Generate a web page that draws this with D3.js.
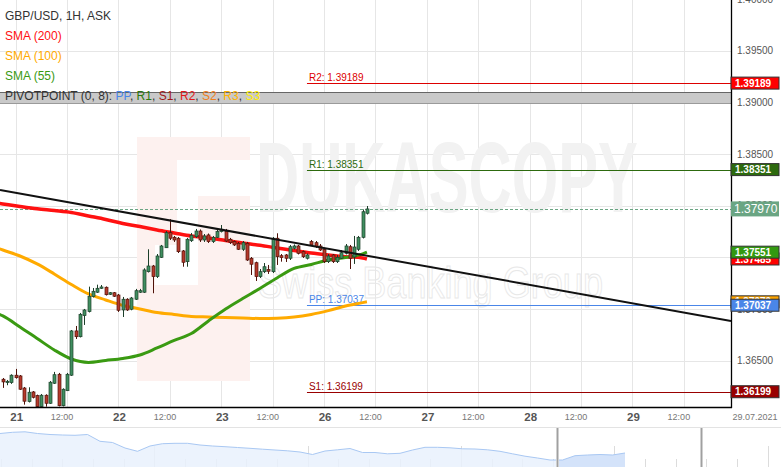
<!DOCTYPE html>
<html><head><meta charset="utf-8">
<script src="https://cdn.jsdelivr.net/npm/d3@7/dist/d3.min.js"></script>
<style>body{margin:0;background:#fff;}svg{display:block;font-family:"Liberation Sans",Arial,sans-serif;}</style>
</head><body><svg id="c" width="781" height="467"></svg>
<script>
// ---------- DATA ----------
const title = "GBP/USD, 1H, ASK";
const firstHour = -3; // hour of first candle relative to 21 Jul 00:00 (weekend compressed)
// hourly candles [open, high, low, close]
const candles = [
[1.36320,1.36332,1.36236,1.36294],[1.36287,1.36313,1.36262,1.36300],[1.36287,1.36368,1.36275,1.36359],
[1.36359,1.36420,1.36326,1.36335],[1.36352,1.36361,1.36216,1.36223],[1.36235,1.36245,1.36074,1.36107],
[1.36103,1.36242,1.36095,1.36194],[1.36197,1.36206,1.36134,1.36145],[1.36161,1.36171,1.36051,1.36054],
[1.36054,1.36177,1.36051,1.36165],[1.36165,1.36174,1.36054,1.36087],[1.36087,1.36303,1.36081,1.36291],
[1.36281,1.36391,1.36274,1.36364],[1.36368,1.36381,1.36057,1.36064],[1.36064,1.36232,1.36057,1.36223],
[1.36209,1.36381,1.36206,1.36368],[1.36359,1.36797,1.36352,1.36788],[1.36788,1.36836,1.36710,1.36732],
[1.36732,1.36962,1.36725,1.36949],[1.36936,1.37001,1.36846,1.36991],[1.36975,1.37217,1.36967,1.37124],
[1.37121,1.37204,1.37112,1.37172],[1.37163,1.37236,1.37156,1.37201],[1.37201,1.37233,1.37195,1.37214],
[1.37211,1.37219,1.37131,1.37139],[1.37143,1.37165,1.37136,1.37158],[1.37158,1.37165,1.37117,1.37124],
[1.37136,1.37146,1.36972,1.36988],[1.36991,1.37117,1.36923,1.37095],[1.37095,1.37105,1.36982,1.36991],
[1.36998,1.37117,1.36988,1.37107],[1.37095,1.37195,1.37088,1.37178],[1.37163,1.37195,1.37156,1.37178],
[1.37163,1.37395,1.37156,1.37379],[1.37362,1.37579,1.37354,1.37417],[1.37417,1.37427,1.37153,1.37314],
[1.37314,1.37533,1.37301,1.37514],[1.37501,1.37621,1.37495,1.37611],[1.37594,1.37756,1.37592,1.37740],
[1.37740,1.37870,1.37669,1.37686],[1.37695,1.37708,1.37650,1.37669],[1.37686,1.37698,1.37543,1.37556],
[1.37563,1.37572,1.37410,1.37453],[1.37459,1.37689,1.37410,1.37676],[1.37662,1.37737,1.37650,1.37715],
[1.37701,1.37776,1.37689,1.37756],[1.37756,1.37771,1.37650,1.37669],[1.37669,1.37727,1.37650,1.37708],
[1.37718,1.37732,1.37640,1.37653],[1.37653,1.37708,1.37640,1.37695],[1.37695,1.37766,1.37689,1.37750],
[1.37750,1.37814,1.37742,1.37773],[1.37756,1.37776,1.37650,1.37659],[1.37676,1.37689,1.37630,1.37643],
[1.37653,1.37664,1.37611,1.37621],[1.37637,1.37650,1.37572,1.37579],[1.37579,1.37659,1.37563,1.37643],
[1.37637,1.37650,1.37466,1.37475],[1.37492,1.37504,1.37330,1.37434],[1.37449,1.37459,1.37272,1.37314],
[1.37314,1.37388,1.37301,1.37362],[1.37362,1.37446,1.37349,1.37410],[1.37382,1.37427,1.37340,1.37366],
[1.37362,1.37698,1.37349,1.37686],[1.37686,1.37734,1.37427,1.37507],[1.37517,1.37533,1.37459,1.37498],
[1.37524,1.37533,1.37456,1.37492],[1.37492,1.37621,1.37475,1.37604],[1.37589,1.37626,1.37577,1.37611],
[1.37611,1.37621,1.37529,1.37540],[1.37556,1.37567,1.37495,1.37507],[1.37492,1.37538,1.37480,1.37524],
[1.37653,1.37669,1.37611,1.37621],[1.37643,1.37659,1.37592,1.37604],[1.37611,1.37630,1.37563,1.37572],
[1.37579,1.37592,1.37446,1.37459],[1.37459,1.37533,1.37446,1.37514],[1.37524,1.37533,1.37446,1.37459],
[1.37459,1.37524,1.37446,1.37501],[1.37492,1.37572,1.37485,1.37546],[1.37540,1.37630,1.37529,1.37611],
[1.37604,1.37621,1.37388,1.37492],[1.37504,1.37708,1.37437,1.37601],[1.37579,1.37708,1.37563,1.37695],
[1.37695,1.37965,1.37684,1.37943],[1.37928,1.37998,1.37916,1.37970]
];
// moving averages, sampled at these candle indices
const smaIdx = [-1,0,4,8,12,16,20,24,28,32,36,40,44,48,52,56,60,64,68,72,76,80,84,85];
const sma200 = [1.38024,1.38018,1.37994,1.37972,1.37955,1.37936,1.37902,1.37868,1.37829,1.37800,1.37766,1.37737,1.37708,1.37689,1.37664,1.37640,1.37618,1.37592,1.37567,1.37543,1.37524,1.37507,1.37495,1.37485];
const sma100 = [1.37587,1.37572,1.37514,1.37437,1.37340,1.37238,1.37146,1.37088,1.37035,1.37001,1.36967,1.36948,1.36928,1.36923,1.36918,1.36914,1.36909,1.36912,1.36923,1.36948,1.36985,1.37030,1.37062,1.37070];
const sma55  = [1.36952,1.36933,1.36826,1.36715,1.36604,1.36516,1.36483,1.36502,1.36521,1.36555,1.36623,1.36696,1.36763,1.36885,1.37001,1.37102,1.37199,1.37301,1.37393,1.37432,1.37475,1.37500,1.37535,1.37551];
// pivot points
const pivotNames  = ["R2","R1","PP","S1"];
const pivotValues = [1.39189,1.38351,1.37037,1.36199];
const pivotStartHour = 68;
// trend line [hour, price]
const trendLine = [[-3.67,1.38153],[167.0,1.36885]];
const lastPrice = 1.37970;
// axis ticks
const yTicks = [1.365,1.370,1.375,1.380,1.385,1.390,1.395,1.400];
const dayLabels = ["21","22","23","26","27","28","29"];
const halfDayLabel = "12:00";
const dateLabel = "29.07.2021";
// navigator history (overview series)
const navValues = [1.3935,1.3947,1.3952,1.3935,1.3925,1.3920,1.3917,1.3925,1.3857,1.3845,1.3790,1.3757,1.3810,1.3833,1.3837,1.3837,1.3820,1.3810,1.3803,1.3795,1.3787,1.3778,1.3770,1.3762,1.3750,1.3725,1.3760,1.3772,1.3785,1.3745,1.3745,1.3732,1.3737,1.3770,1.3797,1.3797,1.3792,1.3782,1.3780,1.3772,1.3757,1.3732,1.3708,1.3690,1.3670,1.3670,1.3713,1.3720,1.3725,1.3720,1.3740];

// ---------- DRAW ----------
const svg = d3.select('#c');
const PR = 731, PB = 407;
const x = d3.scaleLinear().domain([-3.666,167.0]).range([0,PR]);
const y = d3.scaleLinear().domain([1.36051,1.39994]).range([PB,0]);
const fmt = d3.format('.5f');

svg.append('defs').append('clipPath').attr('id','plot')
  .append('rect').attr('x',0).attr('y',0).attr('width',PR).attr('height',PB);
const g = svg.append('g').attr('clip-path','url(#plot)');

// grid
const vt = d3.range(0,157,12);
g.selectAll('.vg').data(vt).join('line').attr('x1',d=>Math.round(x(d))+0.5).attr('x2',d=>Math.round(x(d))+0.5)
  .attr('y1',0).attr('y2',PB).attr('stroke','#e6e6e6');
g.selectAll('.hg').data(yTicks).join('line').attr('y1',d=>Math.round(y(d))+0.5).attr('y2',d=>Math.round(y(d))+0.5)
  .attr('x1',0).attr('x2',PR).attr('stroke','#e6e6e6');

// watermark
const wm = g.append('g');
wm.append('rect').attr('x',137).attr('y',137).attr('width',113).attr('height',244).attr('fill','#fdf1ef');
wm.append('rect').attr('x',177).attr('y',160).attr('width',21).attr('height',125).attr('fill','#fff');
wm.append('rect').attr('x',155).attr('y',245).attr('width',22).attr('height',40).attr('fill','#fff');
wm.append('rect').attr('x',198).attr('y',160).attr('width',52).attr('height',36).attr('fill','#fff');
wm.append('text').attr('x',256).attr('y',212).attr('font-size',100).attr('font-weight','bold')
  .attr('textLength',382).attr('lengthAdjust','spacingAndGlyphs').attr('fill','#f2f2f2').text('DUKASCOPY');
wm.append('text').attr('x',258).attr('y',298).attr('font-size',44)
  .attr('textLength',345).attr('lengthAdjust','spacingAndGlyphs').attr('fill','none').attr('stroke','#e8e8e8').text('Swiss Banking Group');

// legend band
g.append('rect').attr('x',0).attr('y',92).attr('width',PR).attr('height',12).attr('fill','#c9c9c9');
g.append('line').attr('x1',0).attr('x2',PR).attr('y1',92.5).attr('y2',92.5).attr('stroke','#666');
g.append('line').attr('x1',0).attr('x2',PR).attr('y1',103.5).attr('y2',103.5).attr('stroke','#9a9a9a');

// pivots
const pivotColors = ["#dd0000","#2d6a0e","#4a86e8","#990000"];
pivotValues.forEach((v,i)=>{
  const yy = Math.round(y(v))+0.5;
  g.append('line').attr('x1',x(pivotStartHour)).attr('x2',PR).attr('y1',yy).attr('y2',yy).attr('stroke',pivotColors[i]).attr('stroke-width',1);
  g.append('text').attr('x',x(pivotStartHour)+2).attr('y',yy-3).attr('font-size',10).attr('fill',pivotColors[i])
    .text(pivotNames[i]+': '+fmt(v));
});

// last price dashed line
g.append('line').attr('x1',0).attr('x2',PR).attr('y1',Math.round(y(lastPrice))+0.5).attr('y2',Math.round(y(lastPrice))+0.5)
  .attr('stroke','#6aa583').attr('stroke-dasharray','3,2');

// SMA lines
const smaLine = arr => d3.line().x((d,i)=>x(smaIdx[i]+firstHour)).y(d=>y(d)).curve(d3.curveMonotoneX)(arr);
g.append('path').attr('d',smaLine(sma100)).attr('fill','none').attr('stroke','#ffaa00').attr('stroke-width',3);
g.append('path').attr('d',smaLine(sma200)).attr('fill','none').attr('stroke','#ff1111').attr('stroke-width',3.5);
g.append('path').attr('d',smaLine(sma55)).attr('fill','none').attr('stroke','#3a9a12').attr('stroke-width',3);

// candles
const cg = g.append('g');
candles.forEach((c,i)=>{
  const [o,h,l,cl] = c;
  const up = cl >= o;
  const cx = Math.round(x(i+firstHour));
  cg.append('line').attr('x1',cx+0.5).attr('x2',cx+0.5).attr('y1',y(h)).attr('y2',y(l))
    .attr('stroke', up ? '#1d3f2a' : '#4f1209').attr('stroke-width',1);
  const top = y(Math.max(o,cl)), bot = y(Math.min(o,cl));
  cg.append('rect').attr('x',cx-1).attr('width',3).attr('y',top).attr('height',Math.max(1,bot-top))
    .attr('fill', up ? '#3f8e60' : '#b5392b').attr('stroke', up ? '#1d3f2a' : '#4f1209').attr('stroke-width',0.7);
});

// trend line
g.append('line').attr('x1',x(trendLine[0][0])).attr('y1',y(trendLine[0][1]))
  .attr('x2',x(trendLine[1][0])).attr('y2',y(trendLine[1][1])).attr('stroke','#111').attr('stroke-width',2);

// axes frame
svg.append('line').attr('x1',PR+0.5).attr('x2',PR+0.5).attr('y1',0).attr('y2',PB+1).attr('stroke','#000').attr('stroke-width',1.3);
svg.append('line').attr('x1',0).attr('x2',PR+1).attr('y1',PB+0.5).attr('y2',PB+0.5).attr('stroke','#000').attr('stroke-width',1.3);

// y tick labels
svg.selectAll('.yl').data(yTicks).join('text').attr('x',737).attr('y',d=>y(d)+3.5)
  .attr('font-size',10).attr('fill','#555').text(d=>fmt(d));

// price boxes
function box(v, bg, fs, h, bold){
  const yy = y(v);
  svg.append('rect').attr('x',PR).attr('y',yy-h/2).attr('width',48).attr('height',h).attr('fill',bg)
    .attr('stroke', bold ? '#333' : 'none').attr('stroke-width',1);
  svg.append('text').attr('x',PR+ (bold?4:3)).attr('y',yy+fs*0.36).attr('font-size',fs).attr('fill','#fff')
    .attr('font-weight', bold ? 'bold' : 'normal').text(fmt(v));
}
box(pivotValues[0],'#ff0000',10,12,true);
box(pivotValues[1],'#2d6a0e',10,12,true);
box(sma200[sma200.length-1],'#ff0000',10,12,true);
box(sma55[sma55.length-1],'#339910',10,12,true);
box(sma100[sma100.length-1],'#ffa500',10,12,true);
box(pivotValues[2],'#4a86e8',10,12,true);
box(pivotValues[3],'#990000',10,12,true);
box(lastPrice,'#6aa583',12,15,false);

// x labels
const days = dayLabels.map((d,i)=>({t:i*24,label:d}));
svg.selectAll('.dl').data(days).join('text').attr('x',d=>x(d.t)+1).attr('y',421).attr('text-anchor','middle')
  .attr('font-size',11.5).attr('font-weight','bold').attr('fill','#555').text(d=>d.label);
svg.selectAll('.hl').data(days).join('text').attr('x',d=>x(d.t+12)-5).attr('y',420).attr('text-anchor','middle')
  .attr('font-size',9).attr('fill','#777').text(halfDayLabel);
svg.append('text').attr('x',755).attr('y',420).attr('text-anchor','middle').attr('font-size',9).attr('fill','#777').text(dateLabel);

// legend
const lg = svg.append('g').attr('font-size',12);
lg.append('text').attr('x',5).attr('y',20).attr('fill','#333').text(title);
lg.append('text').attr('x',5).attr('y',40).attr('fill','#ff1111').text('SMA (200)');
lg.append('text').attr('x',5).attr('y',60).attr('fill','#ffaa00').text('SMA (100)');
lg.append('text').attr('x',5).attr('y',80).attr('fill','#3a9a12').text('SMA (55)');
const pt = lg.append('text').attr('x',5).attr('y',100).attr('fill','#333');
const parts = [["PIVOTPOINT (0, 8): ","#333"],["PP","#4a86e8"],[", ","#333"],["R1","#2d7a0e"],[", ","#333"],["S1","#a01818"],[", ","#333"],["R2","#e01818"],[", ","#333"],["S2","#f08020"],[", ","#333"],["R3","#ffb300"],[", ","#333"],["S3","#ffee00"]];
parts.forEach(p=>pt.append('tspan').attr('fill',p[1]).text(p[0]));

// navigator
svg.append('line').attr('x1',0).attr('x2',781).attr('y1',427.5).attr('y2',427.5).attr('stroke','#e3e3e3');
const nx = d3.scaleLinear().domain([0,navValues.length-1]).range([0,625]);
const ny = d3.scaleLinear().domain([1.36,1.40]).range([467,427]);
svg.selectAll('.nt').data(d3.range(1,781,30.66)).join('line')
  .attr('x1',d=>Math.round(d)+0.5).attr('x2',d=>Math.round(d)+0.5)
  .attr('y1',(d,i)=>i%5===0 && i>0 ? 446 : 459).attr('y2',467).attr('stroke','#dcdcdc');
const area = d3.area().x((d,i)=>nx(i)).y0(467).y1(d=>ny(d));
svg.append('path').attr('d',area(navValues)).attr('fill','#e9f1fd').attr('fill-opacity',0.85);
svg.append('clipPath').attr('id','sel').append('rect').attr('x',557).attr('y',427).attr('width',144).attr('height',40);
svg.append('path').attr('d',area(navValues)).attr('fill','#d4e3fa').attr('clip-path','url(#sel)');
svg.append('path').attr('d',d3.line().x((d,i)=>nx(i)).y(d=>ny(d))(navValues)).attr('fill','none').attr('stroke','#a9c8f3').attr('stroke-width',1);
[557,701].forEach(hx=>{
  svg.append('rect').attr('x',hx-1).attr('y',428).attr('width',3).attr('height',39).attr('fill','#d0d0d0');
  svg.append('line').attr('x1',hx+0.5).attr('x2',hx+0.5).attr('y1',428).attr('y2',467).attr('stroke','#a0a0a0');
});
</script></body></html>
